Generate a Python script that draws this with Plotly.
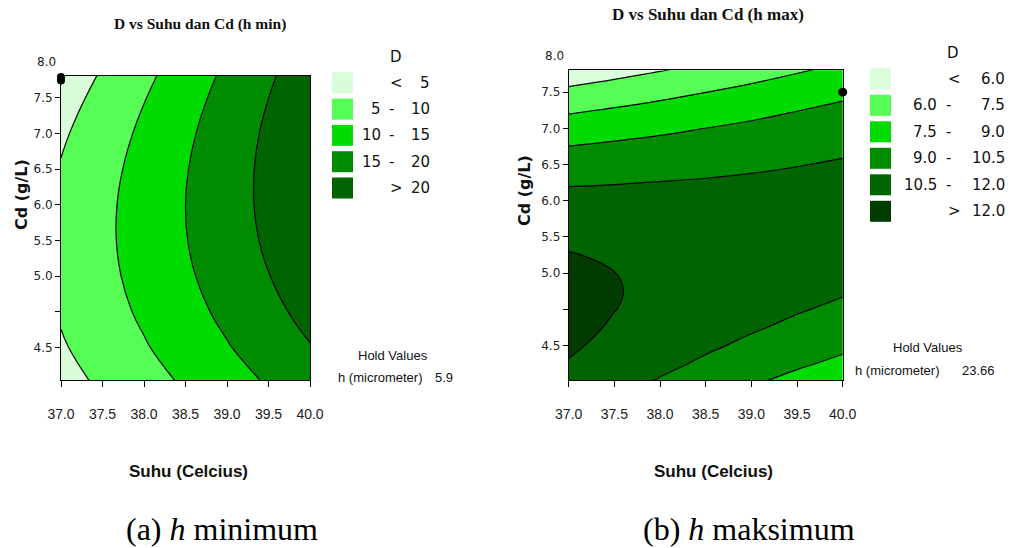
import plotly.graph_objects as go

# Suhu grid shared by both panels
suhu = [37.0, 37.5, 38.0, 38.5, 39.0, 39.5, 40.0]

# Cd grid and D at h minimum (rows follow cd_hmin, columns follow suhu)
cd_hmin = [3.5, 4.0, 4.5, 5.0, 5.5, 6.0, 6.5, 7.0, 7.5, 8.0]
d_hmin = [
    [3.26, 5.67, 8.09, 10.50, 12.92, 15.33, 17.75],
    [4.53, 7.07, 9.61, 12.15, 14.69, 17.23, 19.77],
    [5.44, 8.10, 10.76, 13.42, 16.08, 18.74, 21.40],
    [5.97, 8.75, 11.54, 14.32, 17.11, 19.89, 22.68],
    [6.12, 9.03, 11.94, 14.85, 17.76, 20.67, 23.58],
    [5.91, 8.94, 11.97, 15.00, 18.03, 21.06, 24.09],
    [5.31, 8.46, 11.62, 14.77, 17.93, 21.08, 24.24],
    [4.33, 7.61, 10.89, 14.17, 17.45, 20.73, 24.01],
    [3.00, 6.40, 9.80, 13.20, 16.60, 19.98, 23.40],
    [1.28, 4.83, 8.33, 11.85, 15.38, 18.90, 22.43],
]

# Cd grid and D at h maximum
cd_hmax = [3.5, 3.75, 4.0, 4.25, 4.5, 4.75, 5.0, 5.25, 5.5, 5.75,
           6.0, 6.25, 6.5, 6.75, 7.0, 7.25, 7.5, 7.75, 8.0]
d_hmax = [
    [11.61, 10.99, 10.38, 9.77, 9.17, 8.57, 7.98],
    [11.93, 11.38, 10.83, 10.29, 9.75, 9.21, 8.68],
    [12.17, 11.68, 11.19, 10.71, 10.23, 9.76, 9.29],
    [12.32, 11.89, 11.47, 11.05, 10.64, 10.23, 9.82],
    [12.39, 12.02, 11.66, 11.30, 10.95, 10.60, 10.26],
    [12.36, 12.06, 11.76, 11.47, 11.18, 10.89, 10.61],
    [12.25, 12.01, 11.77, 11.54, 11.31, 11.09, 10.87],
    [12.05, 11.87, 11.70, 11.53, 11.37, 11.21, 11.05],
    [11.77, 11.65, 11.54, 11.43, 11.33, 11.23, 11.14],
    [11.39, 11.34, 11.29, 11.25, 11.21, 11.17, 11.14],
    [10.93, 10.94, 10.95, 10.97, 10.99, 11.02, 11.05],
    [10.38, 10.45, 10.53, 10.61, 10.70, 10.79, 10.88],
    [9.75, 9.88, 10.02, 10.16, 10.31, 10.46, 10.62],
    [9.02, 9.22, 9.42, 9.63, 9.84, 10.05, 10.27],
    [8.21, 8.47, 8.73, 9.01, 9.27, 9.55, 9.83],
    [7.31, 7.63, 7.96, 8.29, 8.63, 8.97, 9.31],
    [6.33, 6.71, 7.10, 7.49, 7.89, 8.29, 8.70],
    [5.25, 5.70, 6.15, 6.61, 7.07, 7.53, 8.00],
    [4.09, 4.60, 5.11, 5.63, 6.15, 6.68, 7.22],
]

# Contour levels and legend labels
levels_hmin = dict(start=5, end=20, size=5)
levels_hmax = dict(start=6.0, end=12.0, size=1.5)
legend_hmin = [("", "<", "5"), ("5", "-", "10"), ("10", "-", "15"), ("15", "-", "20"), ("", ">", "20")]
legend_hmax = [("", "<", "6.0"), ("6.0", "-", "7.5"), ("7.5", "-", "9.0"),
               ("9.0", "-", "10.5"), ("10.5", "-", "12.0"), ("", ">", "12.0")]
colors_hmin = ["#d9fdd9", "#55fd55", "#00dc00", "#008c00", "#006400"]
colors_hmax = ["#dafeda", "#55fd55", "#00dc00", "#008c00", "#006400", "#003c00"]

# Design points shown on each panel
pts_hmin_x, pts_hmin_y = [37.0, 37.0], [7.79, 7.74]
pts_hmax_x, pts_hmax_y = [40.0], [7.5]

hold_hmin = "5.9"
hold_hmax = "23.66"

x_ticks = [37.0, 37.5, 38.0, 38.5, 39.0, 39.5, 40.0]
x_ticktext = ["37.0", "37.5", "38.0", "38.5", "39.0", "39.5", "40.0"]
y_ticks = [4.0, 4.5, 5.0, 5.5, 6.0, 6.5, 7.0, 7.5]
y_ticktext = ["4.5", "", "5.0", "5.5", "6.0", "6.5", "7.0", "7.5"]

W, H = 1017, 548


def px(x):
    return x / W


def py(y):
    return 1 - y / H


def step_scale(colors):
    n = len(colors)
    scale = []
    for i, c in enumerate(colors):
        lo = 0 if i == 0 else (i - 0.5) / (n - 1)
        hi = 1 if i == n - 1 else (i + 0.5) / (n - 1)
        scale.append([lo, c])
        scale.append([hi, c])
    return scale


TICK_FONT = dict(family="DejaVu Sans", size=12, color="#222")
SANS = "Liberation Sans"

fig = go.Figure()

fig.add_trace(go.Contour(
    x=suhu, y=cd_hmin, z=d_hmin, xaxis="x", yaxis="y",
    contours=dict(coloring="fill", showlines=True, **levels_hmin),
    colorscale=step_scale(colors_hmin), showscale=False,
    line=dict(color="black", width=1.2, smoothing=1.3),
    hoverinfo="skip",
))
fig.add_trace(go.Contour(
    x=suhu, y=cd_hmax, z=d_hmax, xaxis="x2", yaxis="y2",
    contours=dict(coloring="fill", showlines=True, **levels_hmax),
    colorscale=step_scale(colors_hmax), showscale=False,
    line=dict(color="black", width=1.2, smoothing=1.1),
    hoverinfo="skip",
))
fig.add_trace(go.Scatter(
    x=pts_hmin_x, y=pts_hmin_y, xaxis="x", yaxis="y", mode="markers",
    marker=dict(color="black", size=8), cliponaxis=False, showlegend=False,
))
fig.add_trace(go.Scatter(
    x=pts_hmax_x, y=pts_hmax_y, xaxis="x2", yaxis="y2", mode="markers",
    marker=dict(color="black", size=9), cliponaxis=False, showlegend=False,
))

xcommon = dict(
    range=[37.0, 40.0], tickvals=x_ticks, ticktext=x_ticktext, automargin=False,
    ticks="outside", ticklen=6, tickcolor="black", showline=True, linecolor="black",
    linewidth=1, mirror=True, showgrid=False, zeroline=False,
    tickfont=dict(family=SANS, size=14, color="#222"), ticklabelstandoff=15,
)
ycommon = dict(
    tickvals=y_ticks, ticktext=y_ticktext, ticks="outside", ticklen=5, automargin=False,
    tickcolor="black", showline=True, linecolor="black", linewidth=1, mirror=True,
    showgrid=False, zeroline=False, tickfont=TICK_FONT,
)

fig.update_layout(
    width=W, height=H, margin=dict(l=0, r=0, t=0, b=0, pad=0, autoexpand=False),
    paper_bgcolor="white", plot_bgcolor="white", showlegend=False,
    xaxis=dict(domain=[px(61), px(310)], anchor="y", **xcommon),
    yaxis=dict(domain=[py(380), py(76)], anchor="x", range=[3.546, 7.804], **ycommon),
    xaxis2=dict(domain=[px(568.7), px(842.7)], anchor="y2", **xcommon),
    yaxis2=dict(domain=[py(380), py(70.3)], anchor="x2", range=[3.525, 7.802], **ycommon),
)

ann = []
shapes = []


def text(x, y, s, size, family="DejaVu Sans", xanchor="center", bold=False, angle=0, color="#111"):
    if bold:
        s = "<b>" + s + "</b>"
    ann.append(dict(x=px(x), y=py(y), xref="paper", yref="paper", text=s, showarrow=False,
                    xanchor=xanchor, yanchor="middle", textangle=angle,
                    font=dict(family=family, size=size, color=color)))


# Panel titles
text(199.5, 24, "D vs Suhu dan Cd (h min)", 15.5, family="Liberation Serif", bold=True)
text(708, 14, "D vs Suhu dan Cd (h max)", 17, family="Liberation Serif", bold=True)

# Top tick labels sitting above the plotting area
text(58, 62, "8.0", 12, xanchor="right", color="#222")
text(566, 56, "8.0", 12, xanchor="right", color="#222")

# Axis titles
text(21, 195, "Cd (g/L)", 16, bold=True, angle=-90)
text(525, 191, "Cd (g/L)", 16, bold=True, angle=-90)
text(188, 472, "Suhu (Celcius)", 17, family=SANS, bold=True)
text(713, 472, "Suhu (Celcius)", 17, family=SANS, bold=True)


def legend(x0, y0, dy, labels, colors, xc1, xdash, xc2, dx, dy_title):
    text(xdash + 5, y0 - dy_title, "D", 15)
    for i, (a, op, b) in enumerate(labels):
        yc = y0 + i * dy
        shapes.append(dict(type="rect", xref="paper", yref="paper",
                           x0=px(x0), x1=px(x0 + 21), y0=py(yc - 10.5), y1=py(yc + 10.5),
                           fillcolor=colors[i], line=dict(width=0)))
        if a:
            text(xc1, yc, a, 15, xanchor="right")
        text(xdash if op == "-" else dx, yc, op, 15)
        text(xc2, yc, b, 15, xanchor="right")


legend(332, 82.8, 26.3, legend_hmin, colors_hmin, 383, 391, 432, 396, 26)
legend(870, 78.8, 26.5, legend_hmax, colors_hmax, 939, 948, 1007, 954, 26)

# Hold values
text(393, 355, "Hold Values", 13, family=SANS)
text(336, 377, "h (micrometer)", 13, family=SANS, xanchor="left")
text(455, 377, hold_hmin, 13, family=SANS, xanchor="right")
text(928, 347, "Hold Values", 13, family=SANS)
text(853, 370, "h (micrometer)", 13, family=SANS, xanchor="left")
text(997, 370, hold_hmax, 13, family=SANS, xanchor="right")

# Captions
text(222, 529, "(a) <i>h</i> minimum", 32, family="Liberation Serif", color="black")
text(749, 529, "(b) <i>h</i> maksimum", 32, family="Liberation Serif", color="black")

fig.update_layout(annotations=ann, shapes=shapes)
fig.write_html("out.html")
